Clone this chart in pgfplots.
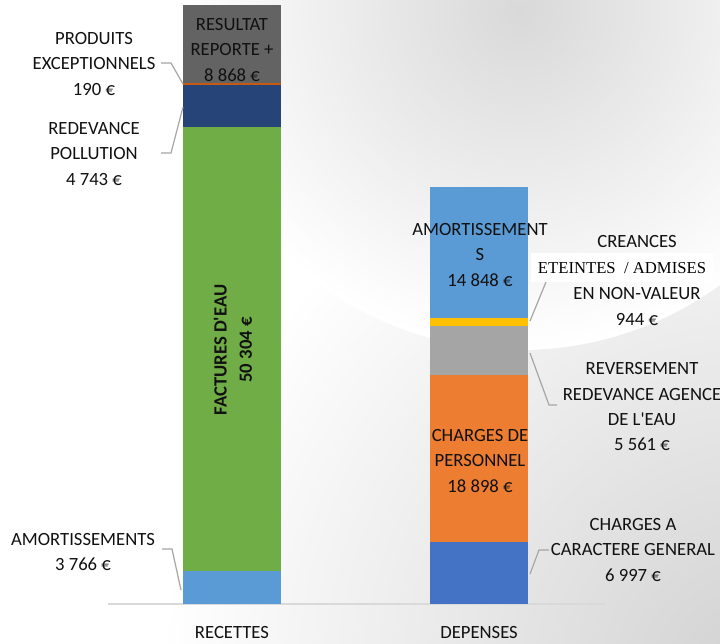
\documentclass[border=0pt]{standalone}
\usepackage{pgfplots}
\pgfplotsset{compat=1.18}
\usepackage{fontspec}
\setmainfont{Carlito}[Ligatures=TeXOff]
\newfontfamily\seriffont{Liberation Serif}
\definecolor{txt}{HTML}{111111}
\definecolor{lblue}{HTML}{5B9BD5}
\definecolor{xgreen}{HTML}{70AD47}
\definecolor{dblue}{HTML}{264478}
\definecolor{rorange}{HTML}{C55A11}
\definecolor{dgray}{HTML}{636363}
\definecolor{xblue}{HTML}{4472C4}
\definecolor{xorange}{HTML}{ED7D31}
\definecolor{xgray}{HTML}{A5A5A5}
\definecolor{xyellow}{HTML}{FFC000}
\definecolor{axisgray}{HTML}{D9D9D9}
\definecolor{leadgray}{HTML}{A6A6A6}
\begin{document}
\begin{tikzpicture}
\useasboundingbox (0,0) rectangle (540pt,482.25pt);
\begin{scope}
\clip (0,0) rectangle (540pt,482.25pt);
\fill[white] (0,0) rectangle (540pt,482.25pt);
\shade[inner color=gray!36, outer color=white] (570pt,-27.75pt) circle (450pt);
\shade[inner color=gray!30, outer color=white] (390pt,474.75pt) circle (255pt);
\end{scope}
\begin{axis}[
  at={(81pt,29.25pt)}, anchor=south west,
  scale only axis, width=372.75pt, height=453pt,
  xmin=-0.502, xmax=1.510, ymin=0, ymax=68439,
  ybar stacked, bar width=0.397,
  axis x line=bottom, axis y line=none,
  x axis line style={-, draw=axisgray, line width=1.1pt},
  xtick={0,1}, xticklabels={RECETTES,DEPENSES},
  major tick length=0pt,
  xticklabel style={font=\fontsize{14}{17}\selectfont, text=txt, yshift=-13pt},
  ytick=\empty,
  every axis plot/.append style={draw=none},
]
% RECETTES
\addplot[fill=lblue]   coordinates {(0,3766) (1,0)};
\addplot[fill=xgreen]  coordinates {(0,50304) (1,0)};
\addplot[fill=dblue]   coordinates {(0,4743) (1,0)};
\addplot[fill=rorange] coordinates {(0,190) (1,0)};
\addplot[fill=dgray]   coordinates {(0,8868) (1,0)};
% DEPENSES
\addplot[fill=xblue]   coordinates {(0,0) (1,6997)};
\addplot[fill=xorange] coordinates {(0,0) (1,18898)};
\addplot[fill=xgray]   coordinates {(0,0) (1,5561)};
\addplot[fill=xyellow] coordinates {(0,0) (1,944)};
\addplot[fill=lblue]   coordinates {(0,0) (1,14848)};
\end{axis}
\begin{scope}[x=0.75pt, y=-0.75pt, shift={(0pt,482.25pt)},
  lbl/.style={align=center, font=\fontsize{14}{19}\selectfont, text=txt, inner sep=0pt},
  leader/.style={draw=leadgray, line width=0.9pt}]
% leader lines
\draw[leader] (161,63) -- (171,63) -- (183,84);
\draw[leader] (161,153) -- (171,153) -- (183,107);
\draw[leader] (162,549) -- (172,549) -- (181,590);
\draw[leader] (546,282) -- (530,321);
\draw[leader] (530,353) -- (549,405) -- (557,405);
\draw[leader] (549,550) -- (539,550) -- (530,574);
% labels
\node[lbl] at (232,50) {RESULTAT\\REPORTE +\\8 868 €};
\node[lbl] at (94,64) {PRODUITS\\EXCEPTIONNELS\\190 €};
\node[lbl] at (94,154) {REDEVANCE\\POLLUTION\\4 743 €};
\node[lbl, rotate=90, font=\fontsize{14}{19}\selectfont\bfseries] at (233,350) {FACTURES D'EAU\\50 304 €};
\node[lbl] at (83,552) {AMORTISSEMENTS\\3 766 €};
\node[lbl] at (480,255) {AMORTISSEMENT\\S\\14 848 €};
\node[lbl] at (480,461) {CHARGES DE\\PERSONNEL\\18 898 €};
\node[lbl] at (637,242) {CREANCES};
\node[fill=white, minimum width=136.5pt, minimum height=21.75pt, inner sep=0pt,
      font=\seriffont\fontsize{12.5}{15}\selectfont, text=black] at (622,268) {ETEINTES~~/ ADMISES};
\node[lbl] at (637,306.5) {EN NON-VALEUR\\944 €};
\node[lbl] at (642,407) {REVERSEMENT\\REDEVANCE AGENCE\\DE L'EAU\\5 561 €};
\node[lbl] at (633,550) {CHARGES A\\CARACTERE GENERAL\\6 997 €};
\end{scope}
\end{tikzpicture}
\end{document}
